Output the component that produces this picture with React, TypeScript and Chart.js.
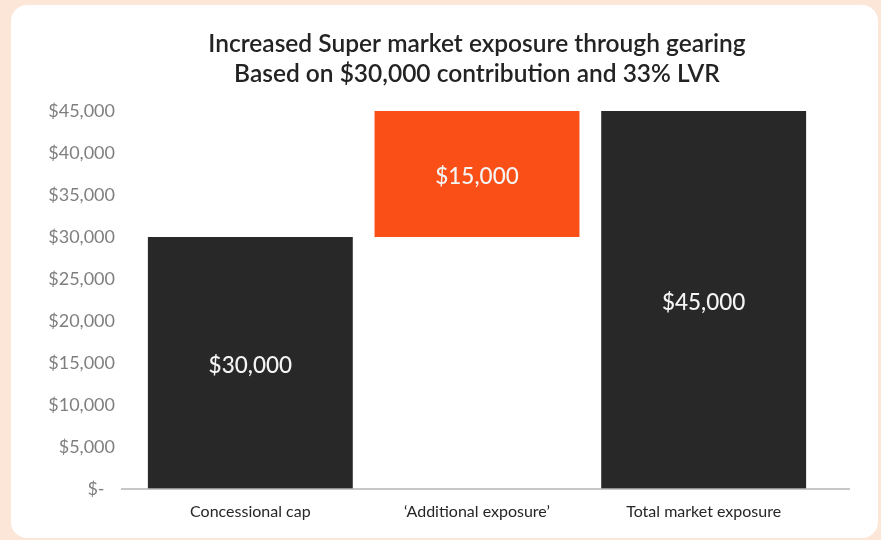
import React, { useEffect, useRef } from "react";
import { Chart, registerables } from "chart.js";

Chart.register(...registerables);

const categories = ["Concessional cap", "\u2018Additional exposure\u2019", "Total market exposure"];
const barStart = [0, 30000, 0];
const barEnd = [30000, 45000, 45000];
const barColors = ["#282828", "#FA4F16", "#282828"];
const titleLines = [
  "Increased Super market exposure through gearing",
  "Based on $30,000 contribution and 33% LVR",
];
const yMin = 0;
const yMax = 45000;
const yStep = 5000;

const FONT = "Lato, 'Noto Sans', sans-serif";

const fmtMoney = (v: number) => (v === 0 ? "$-\u2007" : "$" + v.toLocaleString("en-US"));

const overlayPlugin = {
  id: "overlay",
  afterDraw(chart: any) {
    const { ctx, chartArea, scales } = chart;
    ctx.save();
    // baseline axis line
    const y0 = scales.y.getPixelForValue(0);
    ctx.strokeStyle = "#b4b4b4";
    ctx.lineWidth = 1.5;
    ctx.beginPath();
    ctx.moveTo(chartArea.left - 16, y0);
    ctx.lineTo(chartArea.right + 33, y0);
    ctx.stroke();

    // title
    const cx = (chartArea.left + chartArea.right) / 2;
    ctx.fillStyle = "#232323";
    ctx.font = `600 24.5px ${FONT}`;
    ctx.textAlign = "center";
    ctx.textBaseline = "middle";
    titleLines.forEach((t, i) => ctx.fillText(t, cx, 44 + i * 30));

    // data labels
    const meta = chart.getDatasetMeta(0);
    ctx.font = `500 22.5px ${FONT}`;
    ctx.fillStyle = "#f4f4f4";
    meta.data.forEach((el: any, i: number) => {
      const c = el.getCenterPoint();
      ctx.fillText(fmtMoney(barEnd[i] - barStart[i]), c.x, c.y + 2.5);
    });
    ctx.restore();
  },
};

export default function App() {
  const ref = useRef<HTMLCanvasElement>(null);
  useEffect(() => {
    if (!ref.current) return;
    const chart = new Chart(ref.current, {
      type: "bar",
      data: {
        labels: categories,
        datasets: [
          {
            data: barStart.map((s, i) => [s, barEnd[i]]) as any,
            backgroundColor: barColors,
            borderWidth: 0,
            barPercentage: 0.904,
            categoryPercentage: 1,
          },
        ],
      },
      options: {
        responsive: false,
        animation: false,
        layout: { padding: { left: 0, right: 64, top: 111, bottom: 0 } },
        plugins: {
          legend: { display: false },
          title: { display: false },
          tooltip: { enabled: false },
        },
        scales: {
          x: {
            grid: { display: false, drawTicks: false },
            border: { display: false },
            ticks: {
              color: "#262626",
              font: { family: FONT, size: 16 },
              padding: 13,
              maxRotation: 0,
            },
            afterFit: (s: any) => {
              s.height = 51;
            },
          },
          y: {
            min: yMin,
            max: yMax,
            grid: { display: false, drawTicks: false },
            border: { display: false },
            ticks: {
              stepSize: yStep,
              color: "#7f7f7f",
              font: { family: FONT, size: 18 },
              padding: 22,
              callback: (v: any) => fmtMoney(Number(v)),
            },
            afterFit: (s: any) => {
              s.width = 137;
            },
          },
        },
      },
      plugins: [overlayPlugin],
    });
    return () => chart.destroy();
  }, []);

  return (
    <div style={{ position: "absolute", left: 0, top: 0, width: 881, height: 540, background: "#FBE6D7", overflow: "hidden" }}>
      <div
        style={{
          position: "absolute",
          left: 11,
          top: 5,
          width: 867,
          height: 533,
          background: "#ffffff",
          borderRadius: 16,
        }}
      />
      <canvas ref={ref} width={881} height={540} style={{ position: "absolute", left: 0, top: 0, width: 881, height: 540 }} />
    </div>
  );
}
